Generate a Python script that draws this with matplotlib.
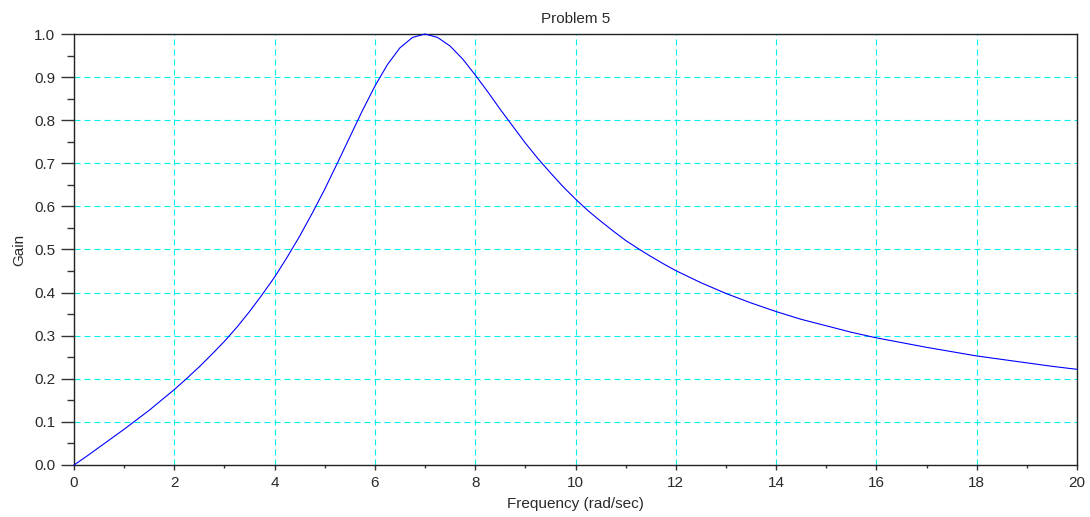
"""Problem 5 — gain of the band-pass response vs frequency."""
import matplotlib
matplotlib.use("Agg")
import matplotlib.pyplot as plt
from matplotlib.ticker import MultipleLocator

# Values (rad/sec, gain).
freq = [0.0, 0.25, 0.5, 0.75, 1.0, 1.25, 1.5, 1.75, 2.0, 2.25, 2.5, 2.75,
        3.0, 3.25, 3.5, 3.75, 4.0, 4.25, 4.5, 4.75, 5.0, 5.25, 5.5, 5.75,
        6.0, 6.25, 6.5, 6.75, 7.0, 7.25, 7.5, 7.75, 8.0, 8.25, 8.5, 8.75,
        9.0, 9.25, 9.5, 9.75, 10.0, 10.25, 10.5, 10.75, 11.0, 11.25, 11.5,
        11.75, 12.0, 12.5, 13.0, 13.5, 14.0, 14.5, 15.0, 15.5, 16.0, 16.5,
        17.0, 17.5, 18.0, 18.5, 19.0, 19.5, 20.0]
gain = [0.000, 0.020, 0.041, 0.062, 0.083, 0.105, 0.127, 0.151, 0.175,
        0.201, 0.228, 0.257, 0.287, 0.320, 0.356, 0.395, 0.436, 0.482,
        0.531, 0.584, 0.640, 0.700, 0.761, 0.822, 0.879, 0.929, 0.968,
        0.992, 1.000, 0.992, 0.972, 0.942, 0.905, 0.866, 0.825, 0.786,
        0.747, 0.711, 0.678, 0.646, 0.617, 0.590, 0.566, 0.543, 0.521,
        0.502, 0.484, 0.467, 0.451, 0.423, 0.398, 0.376, 0.356, 0.338,
        0.323, 0.308, 0.295, 0.284, 0.273, 0.263, 0.253, 0.245, 0.237,
        0.229, 0.222]

TXT = "#2a2a2a"
plt.rcParams["font.family"] = ["Liberation Sans", "DejaVu Sans"]
plt.rcParams["font.size"] = 11

fig = plt.figure(figsize=(10.9, 5.17), dpi=100)
ax = fig.add_axes([74 / 1090, 1 - 465 / 517, (1077 - 74) / 1090, (465 - 34) / 517])

ax.plot(freq, gain, color="#0000ff", lw=0.8, zorder=3, clip_on=False)

ax.set_xlim(0, 20)
ax.set_ylim(0, 1)
ax.xaxis.set_major_locator(MultipleLocator(2))
ax.xaxis.set_minor_locator(MultipleLocator(1))
ax.yaxis.set_major_locator(MultipleLocator(0.1))
ax.yaxis.set_minor_locator(MultipleLocator(0.05))
ax.yaxis.set_major_formatter(lambda v, p: f"{v:.1f}")

ax.grid(True, which="major", color="#00f0f0", lw=0.8,
        linestyle=(0, (5.4, 3.6)), zorder=1)
ax.set_axisbelow(True)

ax.tick_params(axis="y", which="major", direction="out", length=9.5, width=1,
               pad=4, colors="#333333", labelcolor=TXT, labelsize=11)
ax.tick_params(axis="y", which="minor", direction="out", length=5, width=1,
               colors="#333333")
ax.tick_params(axis="x", which="major", direction="out", length=3.8, width=1,
               pad=4, colors="#333333", labelcolor=TXT, labelsize=11)
ax.tick_params(axis="x", which="minor", direction="out", length=2.5, width=1,
               colors="#333333")
for s in ax.spines.values():
    s.set_color("#222222")
    s.set_linewidth(1.0)

ax.set_title("Problem 5", fontsize=11, color=TXT, pad=8)
ax.set_xlabel("Frequency (rad/sec)", fontsize=11, color=TXT, labelpad=5)
ax.set_ylabel("Gain", fontsize=11, color=TXT, labelpad=6)

fig.savefig("out.png", dpi=100)
